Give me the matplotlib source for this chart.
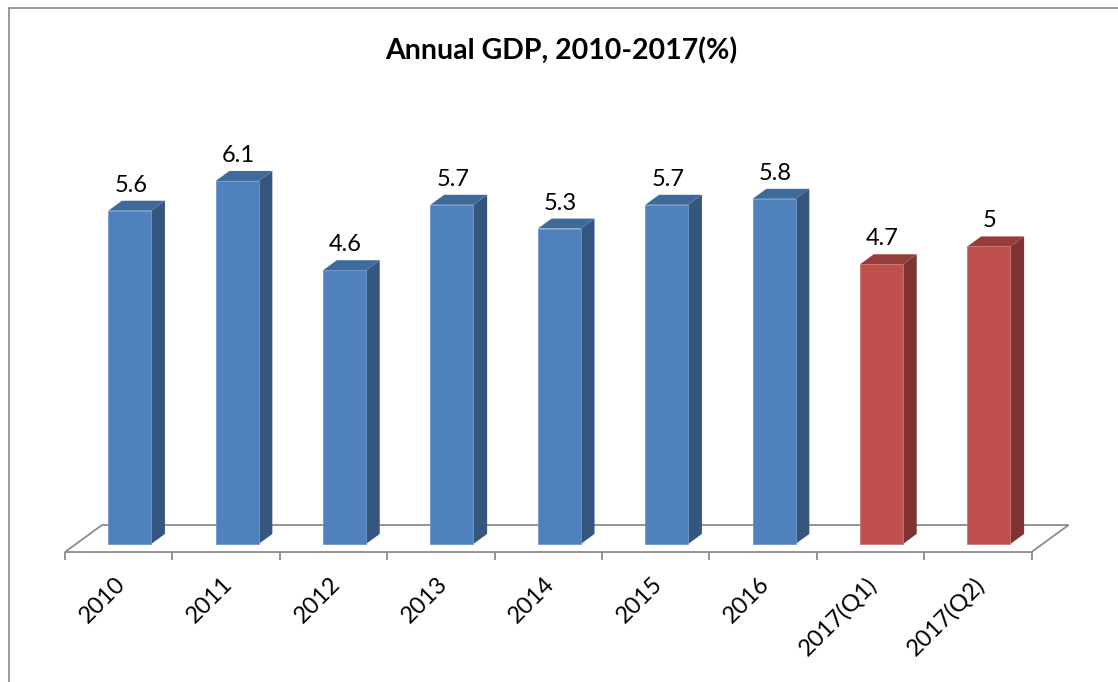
import matplotlib
matplotlib.use("Agg")
import matplotlib.pyplot as plt
from matplotlib.patches import Polygon
from matplotlib.lines import Line2D

# ---- data ----
categories = ["2010", "2011", "2012", "2013", "2014", "2015", "2016", "2017(Q1)", "2017(Q2)"]
values = [5.6, 6.1, 4.6, 5.7, 5.3, 5.7, 5.8, 4.7, 5.0]
value_labels = ["5.6", "6.1", "4.6", "5.7", "5.3", "5.7", "5.8", "4.7", "5"]
is_quarter = [False] * 7 + [True] * 2
title = "Annual GDP, 2010-2017(%)"

# ---- style ----
FONT = "Lato"
blue = dict(front="#4F81BD", side="#35577f", top="#3e6a9c", edge="#6f97c9")
red = dict(front="#C0504D", side="#7d3331", top="#953d3b", edge="#cf7472")
grid_col = "#8c8c8c"

W, H, DPI = 1118, 682, 100
fig = plt.figure(figsize=(W / DPI, H / DPI), dpi=DPI)
ax = fig.add_axes([0, 0, 1, 1])
n = len(categories)
ax.set_xlim(-1.105, 9.305)
ax.set_ylim(-2.319, 9.143)
ax.axis("off")

# depth vector (category units, value units)
DX, DY = 0.3445, 0.4538
floor_y0 = -0.1345
bar_half = 0.2
f0, f1 = 0.30, 0.67  # bar depth span

# floor
fl = [(-0.5, floor_y0), (n - 0.5, floor_y0), (n - 0.5 + DX, floor_y0 + DY), (-0.5 + DX, floor_y0 + DY)]
ax.add_patch(Polygon(fl, closed=True, facecolor="white", edgecolor=grid_col, lw=1.3, zorder=1))
# ticks
for k in range(n + 1):
    ax.plot([k - 0.5, k - 0.5], [floor_y0, floor_y0 - 0.135], color=grid_col, lw=1.3, zorder=1,
            solid_capstyle="butt")

for i, (v, q) in enumerate(zip(values, is_quarter)):
    c = red if q else blue
    x0 = i - bar_half + f0 * DX
    x1 = i + bar_half + f0 * DX
    yb = floor_y0 + f0 * DY
    yt = yb + v
    ddx = (f1 - f0) * DX
    ddy = (f1 - f0) * DY
    front = [(x0, yb), (x1, yb), (x1, yt), (x0, yt)]
    side = [(x1, yb), (x1 + ddx, yb + ddy), (x1 + ddx, yt + ddy), (x1, yt)]
    top = [(x0, yt), (x1, yt), (x1 + ddx, yt + ddy), (x0 + ddx, yt + ddy)]
    ax.add_patch(Polygon(side, closed=True, facecolor=c["side"], edgecolor="none", zorder=3))
    ax.add_patch(Polygon(top, closed=True, facecolor=c["top"], edgecolor="none", zorder=3))
    ax.add_patch(Polygon(front, closed=True, facecolor=c["front"], edgecolor=c["edge"], lw=0.6, zorder=4))
    ax.text((x0 + x1) / 2 + 0.01, yt + 0.32, value_labels[i], ha="center", va="baseline",
            fontsize=17, family=FONT, color="black", zorder=5)
    ax.text(i + 0.03, -0.62, categories[i], ha="right", va="center", rotation=45,
            rotation_mode="anchor", fontsize=17, family=FONT, color="black", zorder=5)

fig.text(0.502, 1 - 51 / H, title, ha="center", va="center", fontsize=20.5, fontweight="bold",
         family=FONT, color="black")

# chart border (left and top visible)
fig.add_artist(Line2D([8.8 / W, 8.8 / W], [0, 1 - 7.8 / H], transform=fig.transFigure,
                      color="#8a8a8a", lw=1.2))
fig.add_artist(Line2D([8.8 / W, 1], [1 - 7.8 / H, 1 - 7.8 / H], transform=fig.transFigure,
                      color="#8a8a8a", lw=1.2))

fig.savefig("out.png", dpi=DPI, facecolor="white")
